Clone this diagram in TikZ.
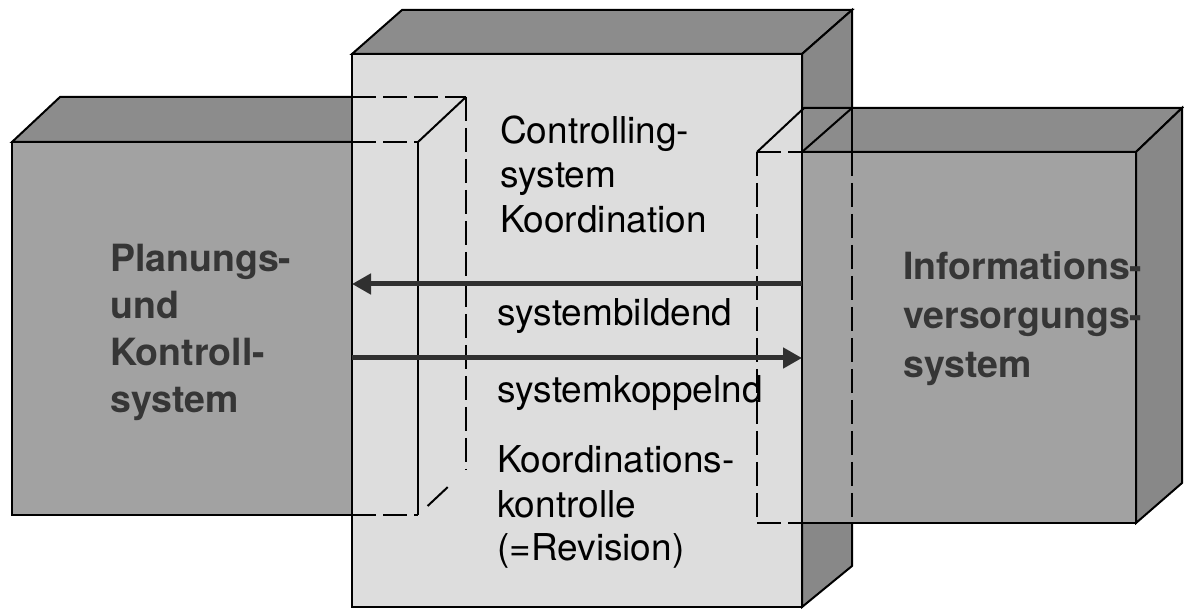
\documentclass[tikz,border=0pt]{standalone}
\usepackage{fontspec}
\setmainfont{TeX Gyre Heros}
\usetikzlibrary{arrows.meta,calc}
\definecolor{facegray}{HTML}{A2A2A2}
\definecolor{topgray}{HTML}{8C8C8C}
\definecolor{sidegray}{HTML}{888888}
\definecolor{corefront}{HTML}{DDDDDD}
\definecolor{labelgray}{HTML}{363636}
\definecolor{arrowgray}{HTML}{303030}
\begin{document}
\begin{tikzpicture}[x=1pt,y=-1pt,
  edge/.style={line width=2pt, line join=miter, draw=black},
  hidden/.style={line width=2pt, draw=black, dash pattern=on 24pt off 7pt},
  flow/.style={line width=5pt, draw=arrowgray, -{Triangle[length=19pt,width=20pt]}},
  boldlabel/.style={anchor=base west, inner sep=0pt, text=labelgray,
    font=\fontsize{37.5}{45}\selectfont\bfseries},
  corelabel/.style={anchor=base west, inner sep=0pt, text=black,
    font=\fontsize{37}{44}\selectfont},
]
\useasboundingbox (0,0) rectangle (1184,609);

% ---- corner points ----
% left block (front face L1..L4, back edge L5..L7)
\coordinate (L1) at (12,142);
\coordinate (L2) at (418,142);
\coordinate (L3) at (418,515);
\coordinate (L4) at (12,515);
\coordinate (L5) at (60,97);
\coordinate (L6) at (466,97);
\coordinate (L7) at (466,470);
% central block
\coordinate (C1) at (352,54);
\coordinate (C2) at (802,54);
\coordinate (C3) at (802,607);
\coordinate (C4) at (352,607);
\coordinate (C5) at (402,10);
\coordinate (C6) at (852,10);
\coordinate (C7) at (852,566);
% right block
\coordinate (R1) at (757,152);
\coordinate (R2) at (1136,152);
\coordinate (R3) at (1136,523);
\coordinate (R4) at (757,523);
\coordinate (R5) at (804,108);
\coordinate (R6) at (1182,108);
\coordinate (R7) at (1182,483);

% ---- left block ----
\filldraw[edge, fill=topgray] (L1) -- (L5) -- (L6) -- (L2) -- cycle;
\filldraw[edge, fill=facegray] (L1) rectangle (L3);

% ---- central block: top and side ----
\filldraw[edge, fill=topgray] (C1) -- (C5) -- (C6) -- (C2) -- cycle;
\filldraw[edge, fill=sidegray] (C2) -- (C6) -- (C7) -- (C3) -- cycle;

% ---- right block ----
\filldraw[edge, fill=topgray] (R1) -- (R5) -- (R6) -- (R2) -- cycle;
\filldraw[edge, fill=sidegray] (R2) -- (R6) -- (R7) -- (R3) -- cycle;
\filldraw[edge, fill=facegray] (R1) rectangle (R3);
% back edge of the central block seen through the right block
\draw[edge] (R5 -| C6) -- (R1 -| C6);
\draw[hidden] (R1 -| C6) -- (R3 -| C6);
\draw[edge] (R1 -| C2) -- (R5 -| C6);

% ---- central block: front face ----
\filldraw[edge, fill=corefront] (C1) rectangle (C3);

% hidden edges of the left block
\draw[hidden] (L6 -| C1) -- (L6);
\draw[hidden] (L2 -| C1) -- (L2);
\draw[hidden] (L3 -| C1) -- (L3);
\draw[hidden] (L6) -- (L7);
\draw[edge] (L2) -- (L6);
\draw[edge] (L2) -- (L3);
\draw[edge] ($(L3)!0.2!(L7)$) -- ($(L3)!0.62!(L7)$);

% hidden edges of the right block
\draw[hidden] (R1) -- (R4);
\draw[edge] (R1) -- (R5);
\draw[hidden] (R1) -- (R1 -| C2);
\draw[hidden] (R4) -- (R4 -| C2);

% ---- flows ----
\coordinate (aL1) at (352,284);
\coordinate (aR1) at (802,284);
\coordinate (aL2) at (352,358);
\coordinate (aR2) at (802,358);
\draw[flow] (aR1) -- (aL1);
\draw[flow] (aL2) -- (aR2);

% ---- labels ----
\node[boldlabel] (pk1) at (110,272) {Planungs-};
\node[boldlabel] (pk2) at (110,319) {und};
\node[boldlabel] (pk3) at (110,366) {Kontroll-};
\node[boldlabel] (pk4) at (110,413) {system};

\node[boldlabel] (iv1) at (903,280) {Informations-};
\node[boldlabel] (iv2) at (903,329) {versorgungs-};
\node[boldlabel] (iv3) at (903,378) {system};

\node[corelabel] (cs1) at (500,144) {Controlling-};
\node[corelabel] (cs2) at (500,188) {system};
\node[corelabel] (cs3) at (500,233) {Koordination};
\node[corelabel] (sb) at (497,326) {systembildend};
\node[corelabel] (sk) at (497,403) {systemkoppelnd};
\node[corelabel] (kk1) at (497,473) {Koordinations-};
\node[corelabel] (kk2) at (497,517) {kontrolle};
\node[corelabel] (kk3) at (497,560) {(=Revision)};
\end{tikzpicture}
\end{document}
